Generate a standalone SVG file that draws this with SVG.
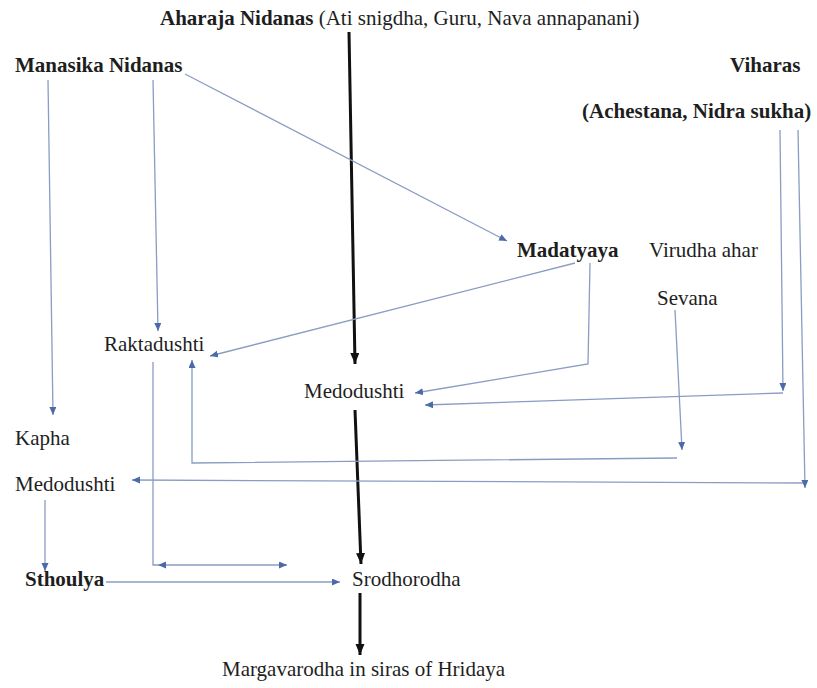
<svg xmlns="http://www.w3.org/2000/svg" width="817" height="688" viewBox="0 0 817 688">
<defs>
<style>
text{font-family:"Liberation Serif","Times New Roman",serif;font-size:21px;fill:#1e1e1e}
.b{font-weight:bold}
.bl{fill:none;stroke:#8a9cc4;stroke-width:1.3}
.bk{fill:none;stroke:#111;stroke-width:3}
</style>
<marker id="ab" markerUnits="userSpaceOnUse" markerWidth="9" markerHeight="8" refX="8" refY="3.5" orient="auto-start-reverse" viewBox="0 0 9 8">
<path d="M0,0 L8,3.5 L0,7 z" fill="#4a6aa8"/>
</marker>
<marker id="ak" markerUnits="userSpaceOnUse" markerWidth="12" markerHeight="10" refX="11" refY="4.5" orient="auto" viewBox="0 0 12 10">
<path d="M0,0 L11,4.5 L0,9 z" fill="#111"/>
</marker>
</defs>
<rect width="817" height="688" fill="#fff"/>
<g id="connectors">
<path class="bk" d="M349,32 L355,364" marker-end="url(#ak)"/>
<path class="bk" d="M355,410 L361,564" marker-end="url(#ak)"/>
<path class="bk" d="M360,593 L360,655" marker-end="url(#ak)"/>
<path class="bl" d="M48,80 L53,415" marker-end="url(#ab)"/>
<path class="bl" d="M153,80 L158,331" marker-end="url(#ab)"/>
<path class="bl" d="M185,74 L507,241" marker-end="url(#ab)"/>
<path class="bl" d="M575,263 L210,356" marker-end="url(#ab)"/>
<path class="bl" d="M590,263 L588,364 L415,393" marker-end="url(#ab)"/>
<path class="bl" d="M780,130 L783,391" marker-end="url(#ab)"/>
<path class="bl" d="M783,393 L425,405" marker-end="url(#ab)"/>
<path class="bl" d="M798,130 L805,488" marker-end="url(#ab)"/>
<path class="bl" d="M803,483 L132,480" marker-end="url(#ab)"/>
<path class="bl" d="M675,310 L682,450" marker-end="url(#ab)"/>
<path class="bl" d="M677,458 L192,463 L192,360" marker-end="url(#ab)"/>
<path class="bl" d="M153,362 L153,565 L158,565"/>
<path class="bl" d="M158,565 L287,565" marker-start="url(#ab)" marker-end="url(#ab)"/>
<path class="bl" d="M45,500 L45,571" marker-end="url(#ab)"/>
<path class="bl" d="M106,582 L340,582" marker-end="url(#ab)"/>
</g>
<g id="aharaja"><text x="160" y="25"><tspan class="b">Aharaja Nidanas</tspan> (Ati snigdha, Guru, Nava annapanani)</text></g>
<g id="manasika"><text class="b" x="15" y="72">Manasika Nidanas</text></g>
<g id="viharas"><text class="b" x="730" y="72">Viharas</text><text class="b" x="582" y="118">(Achestana, Nidra sukha)</text></g>
<g id="madatyaya"><text class="b" x="517" y="257">Madatyaya</text></g>
<g id="virudha"><text x="649" y="257">Virudha ahar</text><text x="657" y="305">Sevana</text></g>
<g id="raktadushti"><text x="104" y="351">Raktadushti</text></g>
<g id="medodushti-mid"><text x="304" y="398">Medodushti</text></g>
<g id="kapha"><text x="15" y="445">Kapha</text></g>
<g id="medodushti-left"><text x="15" y="491">Medodushti</text></g>
<g id="sthoulya"><text class="b" x="25" y="586">Sthoulya</text></g>
<g id="srodhorodha"><text x="352" y="586">Srodhorodha</text></g>
<g id="margavarodha"><text x="222" y="676">Margavarodha in siras of Hridaya</text></g>
</svg>
